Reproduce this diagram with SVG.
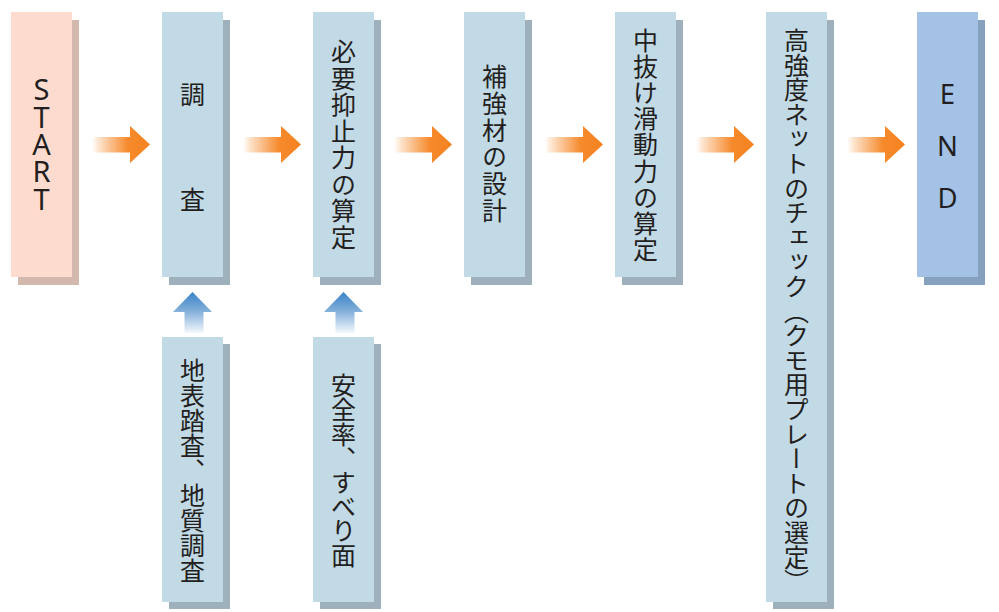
<svg xmlns="http://www.w3.org/2000/svg" width="999" height="612" viewBox="0 0 999 612">
<defs>
<linearGradient id="og" x1="0" y1="0" x2="1" y2="0">
<stop offset="0" stop-color="#ffffff"/>
<stop offset="0.12" stop-color="#fde3cc"/>
<stop offset="0.62" stop-color="#f68a2c"/>
<stop offset="1" stop-color="#f5821f"/>
</linearGradient>
<linearGradient id="bg" x1="0" y1="0" x2="0" y2="1">
<stop offset="0" stop-color="#3a84c7"/>
<stop offset="0.45" stop-color="#7fadd9"/>
<stop offset="1" stop-color="#f4f8fc"/>
</linearGradient>
<polygon id="oa" points="0,137 38,137 38,126 58,144.5 38,163 38,152.5 0,152.5" fill="url(#og)"/>
<polygon id="ba" points="0,0 19.5,20 11,20 11,41 -8,41 -8,20 -19.5,20" fill="url(#bg)"/>
</defs>
<style>
.sh-p { fill: #d2b8ad; }
.bx-p { fill: #fddccf; }
.sh-b { fill: #9eb0bc; }
.bx-b { fill: #c2d9e6; }
.sh-e { fill: #86a1be; }
.bx-e { fill: #a3c2e6; }
.lat { writing-mode: vertical-rl; text-orientation: upright; font-family: "Noto Sans", "Liberation Sans", sans-serif; fill: #231f20; text-anchor: middle; }
.v { writing-mode: vertical-rl; text-anchor: middle; font-family: "Noto Sans CJK JP", sans-serif; font-size: 25px; fill: #231f20; }
.h { font-family: "Noto Sans CJK JP", sans-serif; font-size: 25px; fill: #231f20; text-anchor: middle; dominant-baseline: central; }
</style>
<rect width="999" height="612" fill="#ffffff"/>

<g id="start">
<rect class="sh-p" x="18" y="20" width="61" height="265"/>
<rect class="bx-p" x="11" y="12" width="61" height="265"/>
<text class="lat" font-size="29" x="41.5" y="137.75" letter-spacing="-11.7">START</text>
</g>

<g id="chosa">
<rect class="sh-b" x="169" y="20" width="61" height="265"/>
<rect class="bx-b" x="162" y="12" width="61" height="265"/>
<text class="h" x="192.5" y="93">調</text>
<text class="h" x="192.5" y="197.5">査</text>
</g>

<g id="yokushi">
<rect class="sh-b" x="320" y="20" width="61" height="265"/>
<rect class="bx-b" x="313" y="12" width="61" height="265"/>
<text class="v" x="343.5" y="145" letter-spacing="1.5">必要抑止力の算定</text>
</g>

<g id="hokyozai">
<rect class="sh-b" x="471" y="20" width="61" height="265"/>
<rect class="bx-b" x="464" y="12" width="61" height="265"/>
<text class="v" x="494.5" y="144.5" letter-spacing="1.8">補強材の設計</text>
</g>

<g id="nakanuke">
<rect class="sh-b" x="622" y="20" width="61" height="265"/>
<rect class="bx-b" x="615" y="12" width="61" height="265"/>
<text class="v" x="645.5" y="145.5" letter-spacing="1.2">中抜け滑動力の算定</text>
</g>

<g id="net">
<rect class="sh-b" x="773" y="20" width="61" height="589"/>
<rect class="bx-b" x="766" y="12" width="61" height="590"/>
<text class="v" x="796.5" y="311" letter-spacing="-0.4">高強度ネットのチェック（クモ用プレートの選定）</text>
</g>

<g id="end">
<rect class="sh-e" x="924" y="20" width="61" height="265"/>
<rect class="bx-e" x="917" y="12" width="61" height="265"/>
<text class="lat" font-size="27.5" x="947.5" y="152.5" letter-spacing="15">END</text>
</g>

<g id="chishitsu">
<rect class="sh-b" x="169" y="344" width="61" height="265"/>
<rect class="bx-b" x="162" y="337" width="61" height="265"/>
<text class="v" x="192.5" y="470">地表踏査、地質調査</text>
</g>

<g id="anzenritsu">
<rect class="sh-b" x="320" y="344" width="61" height="265"/>
<rect class="bx-b" x="313" y="337" width="61" height="265"/>
<text class="v" x="343.5" y="470" letter-spacing="-0.8">安全率、すべり面</text>
</g>

<g id="connectors">
<use href="#oa" x="92"/>
<use href="#oa" x="243"/>
<use href="#oa" x="394"/>
<use href="#oa" x="545"/>
<use href="#oa" x="696"/>
<use href="#oa" x="847"/>
<use href="#ba" x="192.5" y="292"/>
<use href="#ba" x="343.5" y="292"/>
</g>
</svg>
